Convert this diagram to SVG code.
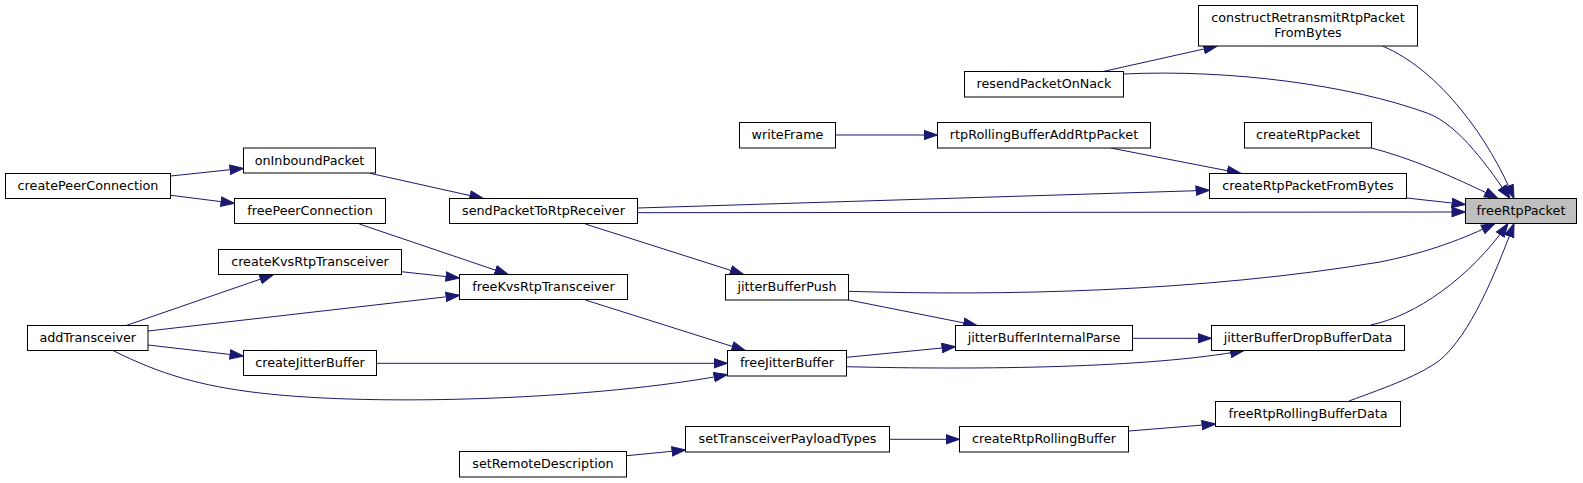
<svg xmlns="http://www.w3.org/2000/svg" width="1583" height="483" viewBox="0 0 1583 483">
<style>
.n rect{fill:#ffffff;stroke:#000000;stroke-width:1}
.n.root rect{fill:#bfbfbf}
.n text{font-family:"DejaVu Sans","Liberation Sans",sans-serif;font-size:12.75px;fill:#000000;text-anchor:middle}
.e path{fill:none;stroke:#191970;stroke-width:1;marker-end:url(#ah)}
</style>
<defs>
<marker id="ah" markerUnits="userSpaceOnUse" markerWidth="15" markerHeight="11" viewBox="0 0 15 11" refX="14" refY="5.5" orient="auto">
<path d="M0.5,0.8 L14,5.5 L0.5,10.2 Z" fill="#191970" stroke="#191970" stroke-width="1"/>
</marker>
</defs>
<rect width="1583" height="483" fill="#ffffff"/>
<g id="connectors" class="e">
<path d="M170.7,176 L243.5,168.3"/>
<path d="M170.7,195.3 L234.5,203.3"/>
<path d="M370,173.3 L483.3,198.5"/>
<path d="M359.3,224 L508.3,274.5"/>
<path d="M401.3,271.7 L459.5,278"/>
<path d="M126.7,325.3 L273.3,274.7"/>
<path d="M148,331 L459.5,295.3"/>
<path d="M148,345 L243.5,356"/>
<path d="M113.3,350.7 C160,374 200,386 260,393 C380,407 600,399 727.5,374.5"/>
<path d="M376.5,363.3 L727.5,363.3"/>
<path d="M585.3,300 L745.3,350.5"/>
<path d="M585.3,224 L743.7,274.5"/>
<path d="M637.5,208 L1209.5,190.3"/>
<path d="M637.5,212.7 L1465.5,212"/>
<path d="M835.5,135 L937.5,135"/>
<path d="M1110.7,148 L1240.7,173.3"/>
<path d="M1102.3,71.7 L1217.3,46"/>
<path d="M1123.5,74 C1230,69 1350,85 1427,113 C1460,125 1490,170 1510,198.5"/>
<path d="M1382.5,46 C1440,70 1490,140 1514,198.5"/>
<path d="M1371.5,148 C1410,158 1450,175 1498,198.5"/>
<path d="M1406.7,198 L1465.5,204.5"/>
<path d="M848.7,291.3 C1000,296 1200,292 1380,262 C1430,252 1465,238 1495,223.5"/>
<path d="M848.7,300 L977,325.5"/>
<path d="M846.7,357.3 L955.5,346.7"/>
<path d="M846.7,366.7 C980,370 1150,368 1244,350.5"/>
<path d="M1132.7,338.3 L1211.5,338.3"/>
<path d="M1370.7,325 C1415,316 1470,278 1508,223.5"/>
<path d="M1349,401 C1390,386 1420,375 1440,360 C1470,335 1495,275 1514,223.5"/>
<path d="M626.5,455.7 L685.5,450"/>
<path d="M889.5,439.3 L959.5,439.3"/>
<path d="M1128.7,431 L1215.5,424"/>
</g>
<g id="createPeerConnection" class="n"><rect x="5.5" y="173.5" width="165" height="25"/><text x="88" y="190">createPeerConnection</text></g>
<g id="onInboundPacket" class="n"><rect x="243.5" y="148" width="132" height="25"/><text x="309.5" y="164.5">onInboundPacket</text></g>
<g id="freePeerConnection" class="n"><rect x="234.5" y="198.5" width="151" height="25"/><text x="310" y="215">freePeerConnection</text></g>
<g id="sendPacketToRtpReceiver" class="n"><rect x="449.5" y="198.5" width="188" height="25"/><text x="543.5" y="215">sendPacketToRtpReceiver</text></g>
<g id="createKvsRtpTransceiver" class="n"><rect x="218.5" y="249.5" width="183" height="25"/><text x="310" y="266">createKvsRtpTransceiver</text></g>
<g id="freeKvsRtpTransceiver" class="n"><rect x="459.5" y="274.5" width="168" height="25"/><text x="543.5" y="291">freeKvsRtpTransceiver</text></g>
<g id="addTransceiver" class="n"><rect x="27.5" y="325.5" width="120.5" height="25"/><text x="87.75" y="342">addTransceiver</text></g>
<g id="createJitterBuffer" class="n"><rect x="243.5" y="350.5" width="133" height="25"/><text x="310" y="367">createJitterBuffer</text></g>
<g id="setRemoteDescription" class="n"><rect x="459.5" y="451.5" width="167" height="25.5"/><text x="543" y="468">setRemoteDescription</text></g>
<g id="resendPacketOnNack" class="n"><rect x="964.5" y="71.5" width="159" height="25.5"/><text x="1044" y="88">resendPacketOnNack</text></g>
<g id="writeFrame" class="n"><rect x="739.5" y="122.5" width="96" height="25.5"/><text x="787.5" y="139">writeFrame</text></g>
<g id="rtpRollingBufferAddRtpPacket" class="n"><rect x="937.5" y="122.5" width="213" height="25.5"/><text x="1044" y="139">rtpRollingBufferAddRtpPacket</text></g>
<g id="jitterBufferPush" class="n"><rect x="725.5" y="274.5" width="123" height="25.5"/><text x="787" y="291">jitterBufferPush</text></g>
<g id="jitterBufferInternalParse" class="n"><rect x="955.5" y="325.5" width="177" height="25"/><text x="1044" y="342">jitterBufferInternalParse</text></g>
<g id="freeJitterBuffer" class="n"><rect x="727.5" y="350.5" width="119" height="25.5"/><text x="787" y="367">freeJitterBuffer</text></g>
<g id="setTransceiverPayloadTypes" class="n"><rect x="685.5" y="426.5" width="204" height="25.5"/><text x="787.5" y="443">setTransceiverPayloadTypes</text></g>
<g id="createRtpRollingBuffer" class="n"><rect x="959.5" y="426.5" width="169" height="25.5"/><text x="1044" y="443">createRtpRollingBuffer</text></g>
<g id="constructRetransmitRtpPacketFromBytes" class="n"><rect x="1198.5" y="5.5" width="219" height="40.5"/><text x="1308" y="22">constructRetransmitRtpPacket</text><text x="1308" y="36.7">FromBytes</text></g>
<g id="createRtpPacket" class="n"><rect x="1244.5" y="122.5" width="127" height="25.5"/><text x="1308" y="139">createRtpPacket</text></g>
<g id="createRtpPacketFromBytes" class="n"><rect x="1209.5" y="173.5" width="197" height="25"/><text x="1308" y="190">createRtpPacketFromBytes</text></g>
<g id="jitterBufferDropBufferData" class="n"><rect x="1211.5" y="325.5" width="193" height="25"/><text x="1308" y="342">jitterBufferDropBufferData</text></g>
<g id="freeRtpRollingBufferData" class="n"><rect x="1215.5" y="401.5" width="185" height="25"/><text x="1308" y="418">freeRtpRollingBufferData</text></g>
<g id="freeRtpPacket" class="n root"><rect x="1465.5" y="198.5" width="111" height="25"/><text x="1521" y="215">freeRtpPacket</text></g>
</svg>
